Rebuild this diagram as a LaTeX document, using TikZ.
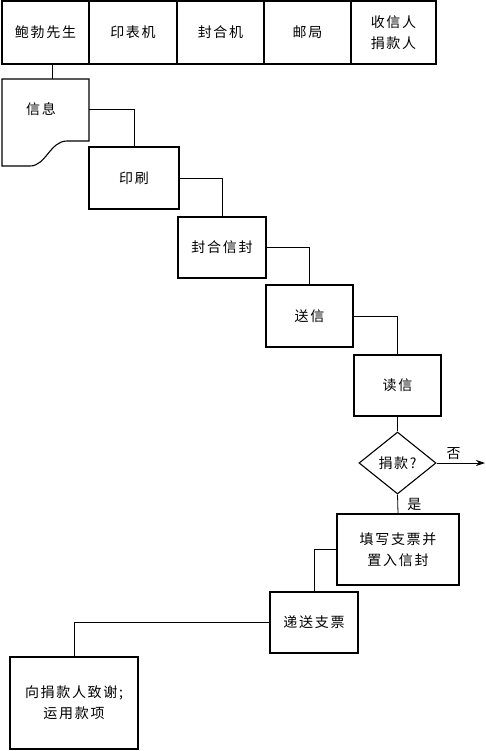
\documentclass[tikz,border=0pt]{standalone}
\usepackage{fontspec}
\newfontfamily\cjk[LetterSpace=12]{Noto Sans CJK SC}
\usetikzlibrary{shapes.geometric,arrows.meta}

\begin{document}
\begin{tikzpicture}[x=1pt,y=-1pt,
    every node/.style={font=\cjk\fontsize{14}{21}\selectfont},
    box/.style={draw, line width=1.1pt, align=center, inner sep=0pt},
    link/.style={line width=0.8pt}]
    \useasboundingbox (0,0) rectangle (486,751);

    % Lanes
    \node[box, minimum width=87pt, minimum height=63pt] (bob) at (45.5,32.5) {鲍勃先生};
    \node[box, minimum width=88pt, minimum height=63pt] (press) at (133,32.5) {印表机};
    \node[box, minimum width=87pt, minimum height=63pt] (sealer) at (220.5,32.5) {封合机};
    \node[box, minimum width=87pt, minimum height=63pt] (office) at (307.5,32.5) {邮局};
    \node[box, minimum width=85pt, minimum height=63pt] (donor) at (393.5,32.5) {收信人\\捐款人};

    % Message (document shape)
    \draw[line width=1.1pt] (2,79) -- (89,79) -- (89,141) -- (67,141)
        .. controls (50,141) and (46,166) .. (30,166) -- (2,166) -- cycle;
    \node (info) at (41,109) {信息};
    \coordinate (infoT) at (52,79);
    \coordinate (infoR) at (89,109);

    % Steps
    \node[box, minimum width=90pt, minimum height=62pt] (print) at (134,178) {印刷};
    \node[box, minimum width=88pt, minimum height=61pt] (seal) at (222,247.5) {封合信封};
    \node[box, minimum width=87pt, minimum height=62pt] (send) at (309.5,316) {送信};
    \node[box, minimum width=87pt, minimum height=61pt] (read) at (397.5,385.5) {读信};
    \node[box, shape=diamond, minimum width=77pt, minimum height=62pt] (ask) at (397.5,463) {捐款?};
    \node[box, minimum width=122pt, minimum height=71pt] (fill) at (398,549.5) {填写支票并\\置入信封};
    \node[box, minimum width=88pt, minimum height=61pt] (post) at (314,622.5) {递送支票};
    \node[box, minimum width=128pt, minimum height=92pt] (thank) at (74,703) {向捐款人致谢;\\运用款项};
    \coordinate (exit) at (485,463);

    % Connectors
    \draw[link] (bob.south -| infoT) -- (infoT);
    \draw[link] (infoR) -| (print.north);
    \draw[link] (print.east) -| (seal.north);
    \draw[link] (seal.east) -| (send.north);
    \draw[link] (send.east) -| (read.north);
    \draw[link] (read.south) -- (ask.north);
    \draw[link] (ask.south) -- (fill.north) node[midway, right, xshift=6pt] {是};
    \draw[link, -{Stealth[length=9pt, width=6pt]}] (ask.east) -- (exit) node[pos=0.35, above] {否};
    \draw[link] (fill.west) -| (post.north);
    \draw[link] (post.west) -| (thank.north);
\end{tikzpicture}
\end{document}
